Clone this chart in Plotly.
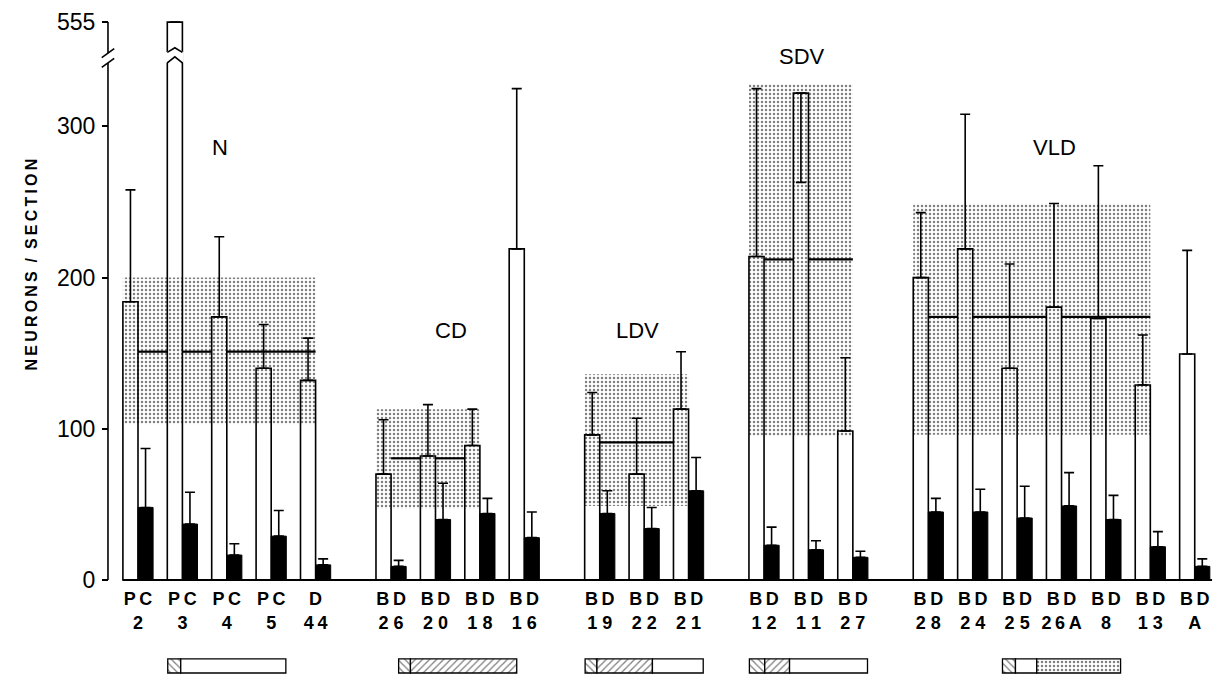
import plotly.graph_objects as go

# ---------------- data ----------------
groups = ["N", "CD", "LDV", "SDV", "VLD"]
group_sizes = [5, 4, 3, 3, 7]

label_top = ["P\u2009C", "P\u2009C", "P\u2009C", "P\u2009C", "D",
             "B\u2009D", "B\u2009D", "B\u2009D", "B\u2009D",
             "B\u2009D", "B\u2009D", "B\u2009D",
             "B\u2009D", "B\u2009D", "B\u2009D",
             "B\u2009D", "B\u2009D", "B\u2009D", "B\u2009D", "B\u2009D", "B\u2009D", "B\u2009D"]
label_bottom = ["2", "3", "4", "5", "4\u20094",
                "2 6", "2 0", "1 8", "1 6",
                "1 9", "2 2", "2 1",
                "1 2", "1 1", "2 7",
                "2 8", "2 4", "2 5", "2\u20096\u2009A", "8", "1 3", "A"]

white_vals = [184, 555, 174, 140, 132,
              70, 82, 89, 219,
              96, 70, 113,
              214, 322, 98.5,
              200, 219, 140, 180.5, 173, 129, 149.5]
white_sd_up = [74, 0, 53, 29, 28,
               36, 34, 24, 106,
               28, 37, 38,
               111, 0, 48.5,
               43, 89, 69, 68.5, 101, 33, 68.5]
white_sd_down = [0, 0, 0, 0, 0,
                 0, 0, 0, 0,
                 0, 0, 0,
                 0, 59, 0,
                 0, 0, 0, 0, 0, 0, 0]

black_vals = [48, 37, 16.5, 29, 10,
              9, 40, 44, 28,
              44, 34, 59,
              23, 20, 15,
              45, 45, 41, 49, 40, 22, 9]
black_sd = [39, 21, 7.5, 17, 4,
            4, 24, 10, 17,
            15, 14, 22,
            12, 6, 4,
            9, 15, 21, 22, 16, 10, 5]

band_low = [103, 47, 49, 95, 96]
band_high = [200, 113, 136, 328, 249]
band_count = [5, 3, 3, 3, 6]
group_means = [151, 80.5, 91, 212, 174]

# schematic boxes under each group: (hatch, fraction)
box_segments = [
    [("\\", 0.11), ("", 0.89)],
    [("\\", 0.10), ("/", 0.90)],
    [("\\", 0.10), ("/", 0.47), ("", 0.43)],
    [("\\", 0.13), ("/", 0.21), ("", 0.66)],
    [("\\", 0.11), ("", 0.18), (".", 0.71)],
]

y_ticks = [0, 100, 200, 300, 555]

# ---------------- layout constants ----------------
FONT = "Liberation Sans, Arial, sans-serif"
GAP = 0.7
BAR_W = 0.34
XMIN, XMAX = -3.108, 24.279
YMIN, YMAX = -62.83, 383.6
AXIS_X = -0.676
BREAK_LO, BREAK_HI = 342.0, 348.5
TOP_DISP = 369.0
label_y = [286, 165, 165, 346, 286]
BOX_H = (-61.5, -52.2)
BOX_W = 2.66


def disp(v):
    """map a value onto the broken y axis"""
    if v <= BREAK_LO:
        return v
    return TOP_DISP - (555 - v) * 0.1


# positions
starts, pos = [], []
s = 0
for g, n in enumerate(group_sizes):
    starts.append(s)
    pos += [s + k + GAP * g for k in range(n)]
    s += n
n_all = len(pos)

fig = go.Figure()

# stippled bands
bx, bw, bb, bh = [], [], [], []
for g in range(len(groups)):
    first = starts[g]
    last = first + band_count[g] - 1
    left = pos[first] - BAR_W
    right = pos[last]
    bx.append((left + right) / 2)
    bw.append(right - left)
    bb.append(band_low[g])
    bh.append(band_high[g] - band_low[g])
fig.add_trace(go.Bar(x=bx, y=bh, base=bb, width=bw,
                     marker=dict(color="white", line=dict(width=0),
                                 pattern=dict(shape=".", fgcolor="black", bgcolor="white",
                                              size=4, solidity=0.3)),
                     hoverinfo="skip", showlegend=False))

# schematic boxes
for g in range(len(groups)):
    first = starts[g]
    last = first + group_sizes[g] - 1
    center = (pos[first] + pos[last]) / 2
    x = center - BOX_W / 2
    for hatch, frac in box_segments[g]:
        w = BOX_W * frac
        pat = dict(shape=hatch, fgcolor="black", bgcolor="white",
                   size=5 if hatch != "." else 4,
                   solidity=0.25 if hatch != "." else 0.3)
        fig.add_trace(go.Bar(x=[x + w / 2], y=[BOX_H[1] - BOX_H[0]], base=[BOX_H[0]], width=[w],
                             marker=dict(color="white", line=dict(color="black", width=1.3),
                                         pattern=pat),
                             hoverinfo="skip", showlegend=False))
        x += w

# white bars
fig.add_trace(go.Bar(
    x=[p - BAR_W / 2 for p in pos], y=[disp(v) for v in white_vals], width=BAR_W,
    customdata=white_vals, hovertemplate="%{customdata}<extra></extra>",
    marker=dict(color="rgba(255,255,255,0)", line=dict(color="black", width=1.6)),
    error_y=dict(type="data", symmetric=False, array=white_sd_up, arrayminus=white_sd_down,
                 color="black", thickness=1.6, width=5),
    showlegend=False))

# black bars
fig.add_trace(go.Bar(
    x=[p + BAR_W / 2 for p in pos], y=black_vals, width=BAR_W,
    marker=dict(color="black", line=dict(color="black", width=1)),
    error_y=dict(type="data", symmetric=False, array=black_sd, arrayminus=[0] * n_all,
                 color="black", thickness=1.6, width=5),
    showlegend=False))

# group mean lines (hidden behind taller white bars)
mx, my = [], []
for g in range(len(groups)):
    first = starts[g]
    last = first + band_count[g] - 1
    m = group_means[g]
    x0 = pos[first]
    for k in range(first + 1, last + 1):
        if white_vals[k] > m:
            mx += [x0, pos[k] - BAR_W, None]
            my += [m, m, None]
            x0 = pos[k]
    if pos[last] > x0:
        mx += [x0, pos[last], None]
        my += [m, m, None]
fig.add_trace(go.Scatter(x=mx, y=my, mode="lines", line=dict(color="black", width=2.2),
                         hoverinfo="skip", showlegend=False))

# dummy trace for second label axis
fig.add_trace(go.Scatter(x=[None], y=[None], xaxis="x2", showlegend=False, hoverinfo="skip"))

shapes = []
# y axis line with break
shapes.append(dict(type="line", x0=AXIS_X, x1=AXIS_X, y0=0, y1=BREAK_LO,
                   line=dict(color="black", width=1.6)))
shapes.append(dict(type="line", x0=AXIS_X, x1=AXIS_X, y0=BREAK_HI, y1=TOP_DISP,
                   line=dict(color="black", width=1.6)))
for yc in (BREAK_LO, BREAK_HI):
    shapes.append(dict(type="line", x0=AXIS_X - 0.14, x1=AXIS_X + 0.14, y0=yc - 3, y1=yc + 3,
                       line=dict(color="black", width=1.6)))
# baseline
shapes.append(dict(type="line", x0=pos[0] - BAR_W, x1=pos[-1] + BAR_W + 0.05, y0=0, y1=0,
                   line=dict(color="black", width=2)))
# break on the off-scale bar
for k, v in enumerate(white_vals):
    if v > BREAK_LO:
        l, r = pos[k] - BAR_W, pos[k]
        c = (l + r) / 2
        shapes.append(dict(type="path",
                           path=f"M {l-0.03},{BREAK_LO} L {c},{BREAK_LO+4} L {r+0.03},{BREAK_LO} "
                                f"L {r+0.03},{BREAK_HI+0.5} L {c},{BREAK_HI+3.5} L {l-0.03},{BREAK_HI+0.5} Z",
                           fillcolor="white", line=dict(width=0), layer="above"))
        shapes.append(dict(type="path", path=f"M {l},{BREAK_LO} L {c},{BREAK_LO+4} L {r},{BREAK_LO}",
                           line=dict(color="black", width=1.6), layer="above"))
        shapes.append(dict(type="path", path=f"M {l},{BREAK_HI+0.5} L {c},{BREAK_HI+3.5} L {r},{BREAK_HI+0.5}",
                           line=dict(color="black", width=1.6), layer="above"))

annotations = []
for g, name in enumerate(groups):
    first = starts[g]
    last = first + group_sizes[g] - 1
    center = (pos[first] + pos[last]) / 2
    annotations.append(dict(x=center - 0.15, y=label_y[g], xref="x", yref="y", text=name,
                            showarrow=False, font=dict(family=FONT, size=22, color="black")))
ytitle = "\u2009".join("NEURONS") + "\u00a0\u00a0/\u00a0\u00a0" + "\u2009".join("SECTION")
annotations.append(dict(x=20 / 1216, y=(675 - 265) / 675, xref="paper", yref="paper",
                        text=ytitle, textangle=-90, showarrow=False,
                        font=dict(family=FONT, size=16, color="black", weight="bold")))

y_zero_paper = (0 - YMIN) / (YMAX - YMIN)
y_axis_paper = (AXIS_X - XMIN) / (XMAX - XMIN)
lab_font = dict(family=FONT, size=18, color="black", weight="bold")

fig.update_layout(
    width=1216, height=675,
    margin=dict(l=0, r=0, t=0, b=0),
    paper_bgcolor="white", plot_bgcolor="white",
    barmode="overlay", showlegend=False,
    shapes=shapes, annotations=annotations,
    xaxis=dict(range=[XMIN, XMAX], tickvals=pos, ticktext=label_top, anchor="free",
               position=y_zero_paper, showgrid=False, zeroline=False, showline=False,
               ticks="", tickfont=lab_font, ticklabelstandoff=6),
    xaxis2=dict(range=[XMIN, XMAX], overlaying="x", tickvals=pos, ticktext=label_bottom,
                anchor="free", position=y_zero_paper, side="bottom", showgrid=False,
                zeroline=False, showline=False, ticks="", tickfont=lab_font,
                ticklabelstandoff=30),
    yaxis=dict(range=[YMIN, YMAX], anchor="free", position=y_axis_paper,
               tickvals=[disp(v) for v in y_ticks], ticktext=[str(v) for v in y_ticks],
               ticks="outside", ticklen=6, tickwidth=1.6, tickcolor="black",
               showgrid=False, zeroline=False, showline=False, ticklabelstandoff=2,
               tickfont=dict(family=FONT, size=23, color="black")),
)

fig.write_html("out.html")
